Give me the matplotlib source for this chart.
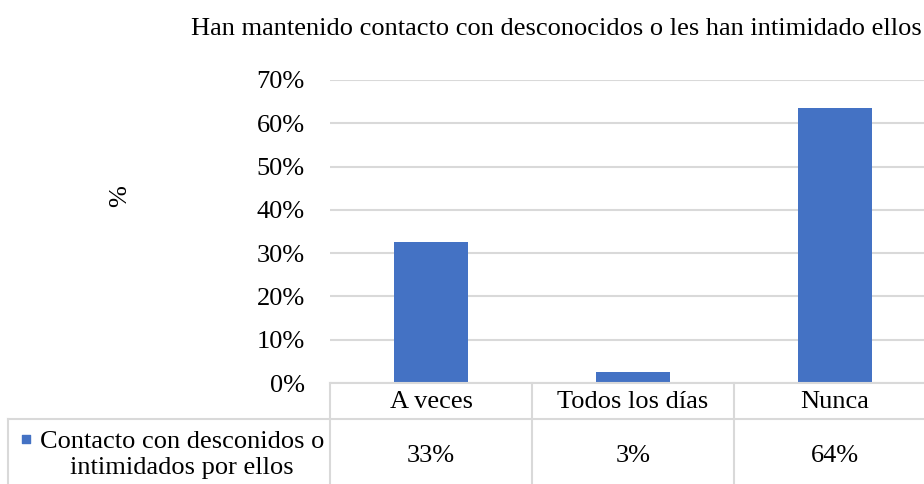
import matplotlib.pyplot as plt
from matplotlib.transforms import blended_transform_factory

categories = ["A veces", "Todos los días", "Nunca"]
values = [32.5, 2.5, 63.5]
table_labels = ["33%", "3%", "64%"]
series_name = "Contacto con desconidos o\nintimidados por ellos"
title = "Han mantenido contacto con desconocidos o les han intimidado ellos"
yticks = [0, 10, 20, 30, 40, 50, 60, 70]

W, H = 924, 484
bar_color = "#4472C4"
grid_color = "#d9d9d9"
plt.rcParams['font.family'] = ['Liberation Serif', 'DejaVu Serif']

fig = plt.figure(figsize=(W / 100, H / 100), dpi=100)

# plot area in pixels: left 330, right 936 (cut off), top 80, bottom 383
ax = fig.add_axes([330 / W, (H - 383) / H, 606 / W, (383 - 80) / H])
x = range(len(categories))
ax.bar(x, values, width=0.37, color=bar_color, zorder=3)
ax.set_xlim(-0.5, len(categories) - 0.5)
ax.set_ylim(0, 70)
ax.set_yticks(yticks)
ax.set_yticklabels([f"{t}%" for t in yticks], fontsize=19)
ax.tick_params(axis='y', length=0, pad=18)
ax.set_xticks([])
ax.grid(axis='y', color=grid_color, linewidth=1.5, zorder=0)
for s in ax.spines.values():
    s.set_visible(False)

# overlay in pixel coordinates for table and texts
ov = fig.add_axes([0, 0, 1, 1], facecolor='none')
ov.set_xlim(0, W)
ov.set_ylim(H, 0)
ov.axis('off')

tr = blended_transform_factory(ax.transData, ov.transData)

fig.text(556 / W, 1 - 29 / H, title, ha='center', va='center', fontsize=19)
fig.text(120 / W, 1 - 196 / H, "%", ha='center', va='center', rotation=90, fontsize=19)

# table lines
lw = 1.5
ov.plot([330, W], [383, 383], color=grid_color, lw=lw)
ov.plot([8, W], [419, 419], color=grid_color, lw=lw)
ov.plot([8, 8], [419, H], color=grid_color, lw=lw)
for i in range(len(categories) + 1):
    ov.plot([i - 0.5, i - 0.5], [383, H], color=grid_color, lw=lw, transform=tr)

for i, (cat, lab) in enumerate(zip(categories, table_labels)):
    ov.text(i, 402, cat, ha='center', va='center', fontsize=19, transform=tr)
    ov.text(i, 456, lab, ha='center', va='center', fontsize=19, transform=tr)

ov.text(182, 455, series_name, ha='center', va='center', fontsize=19, linespacing=1.25)
ov.scatter([26], [439], marker='s', s=30, color=bar_color)

fig.savefig("out.png", dpi=100)
